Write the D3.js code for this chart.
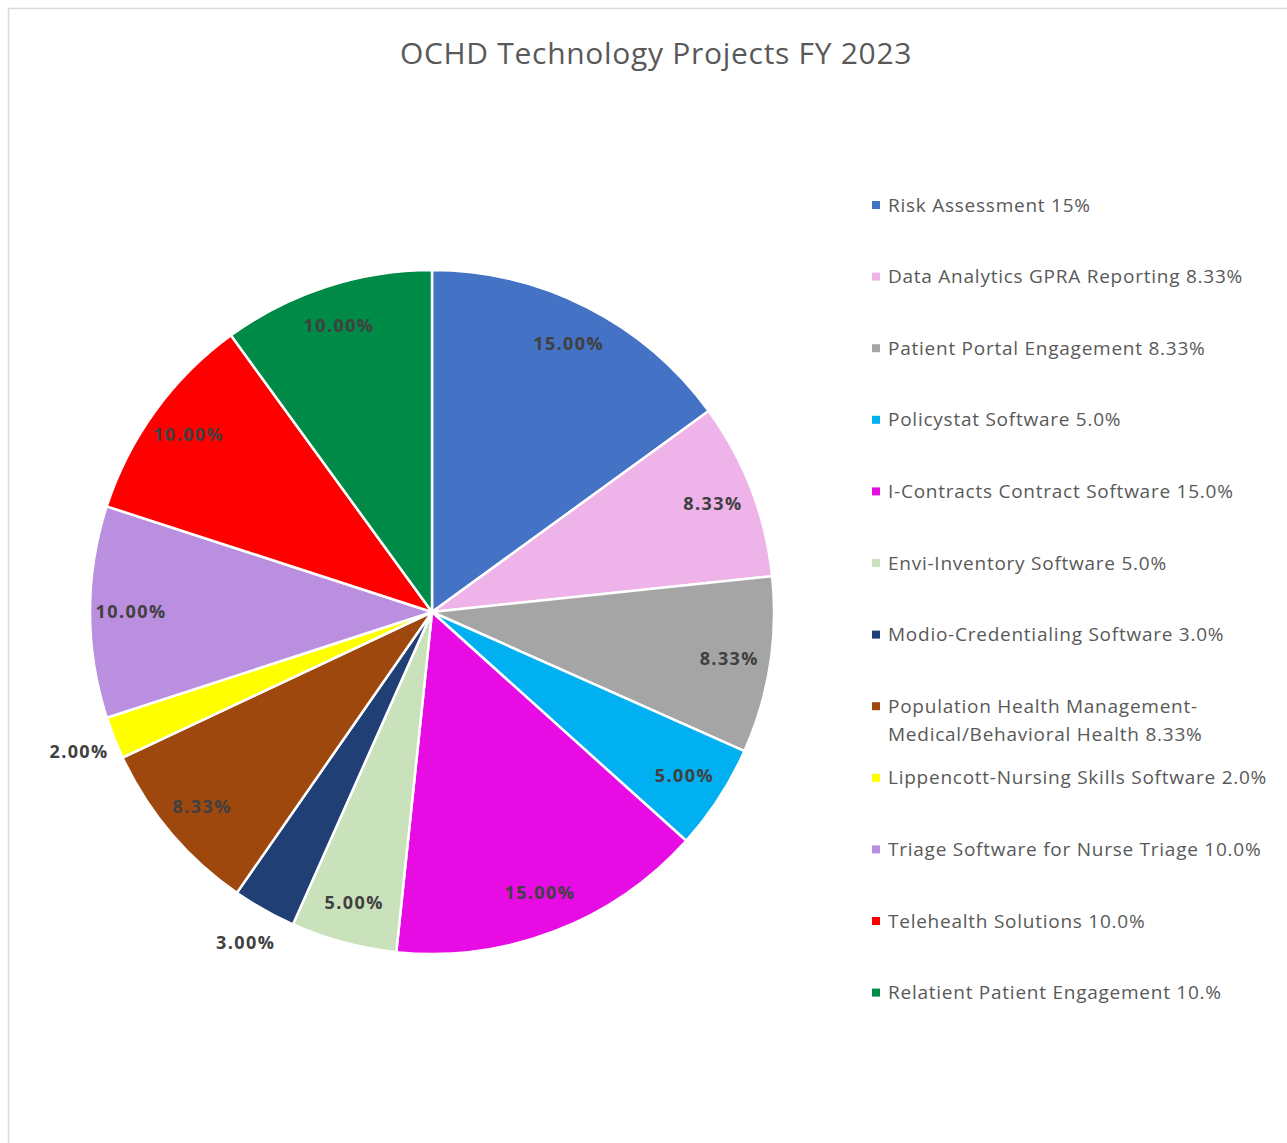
<!DOCTYPE html>
<html>
<head>
<meta charset="utf-8">
<script src="https://cdn.jsdelivr.net/npm/d3@7"></script>
<style>
  body { margin: 0; background: #fff; }
  svg { display: block; }
</style>
</head>
<body>
<div id="chart"></div>
<script>
// chart data
const categories = [
  "Risk Assessment 15%",
  "Data Analytics GPRA Reporting 8.33%",
  "Patient Portal Engagement 8.33%",
  "Policystat Software 5.0%",
  "I-Contracts Contract Software 15.0%",
  "Envi-Inventory Software 5.0%",
  "Modio-Credentialing Software 3.0%",
  "Population Health Management-|Medical/Behavioral Health 8.33%",
  "Lippencott-Nursing Skills Software 2.0%",
  "Triage Software for Nurse Triage 10.0%",
  "Telehealth Solutions 10.0%",
  "Relatient Patient Engagement 10.%"
];
const values = [15, 8.33, 8.33, 5, 15, 5, 3, 8.33, 2, 10, 10, 10];
const colors = ["#4472C4", "#EEB4EA", "#A5A5A5", "#00B0F0", "#E80CE4", "#C9E2BC",
  "#203F75", "#9E480E", "#FFFF00", "#BB8FDF", "#FF0000", "#008A48"];
// small slices get their label outside the pie
const outsideLabel = [false, false, false, false, false, false, true, false, true, false, false, false];

const width = 1287, height = 1143;
const cx = 432, cy = 612, radius = 342;

const svg = d3.select("#chart")
  .append("svg")
  .attr("width", width)
  .attr("height", height);

// chart area frame (only top and left visible)
svg.append("path")
  .attr("d", `M8.5,${height} V8.5 H${width}`)
  .attr("fill", "none")
  .attr("stroke", "#d9d9d9")
  .attr("stroke-width", 1.5);

svg.append("text")
  .attr("x", 656)
  .attr("y", 64)
  .attr("text-anchor", "middle")
  .style("font-family", "'Open Sans', sans-serif")
  .style("font-size", "30px")
  .style("letter-spacing", "0.7px")
  .attr("fill", "#595959")
  .text("OCHD Technology Projects FY 2023");

const pie = d3.pie().sort(null).value(d => d);
const arcs = pie(values);
const arc = d3.arc().innerRadius(0).outerRadius(radius);

const g = svg.append("g").attr("transform", `translate(${cx},${cy})`);

g.selectAll("path.slice")
  .data(arcs)
  .enter().append("path")
  .attr("class", "slice")
  .attr("d", arc)
  .attr("fill", (d, i) => colors[i])
  .attr("stroke", "#fff")
  .attr("stroke-width", 2.5)
  .attr("stroke-linejoin", "round");

// data labels
g.selectAll("text.lbl")
  .data(arcs)
  .enter().append("text")
  .attr("class", "lbl")
  .attr("transform", function(d, i) {
    let r = outsideLabel[i] ? radius * 1.11 : radius * 0.88;
    let a = (d.startAngle + d.endAngle) / 2;
    return "translate(" + (Math.sin(a) * r) + "," + (-Math.cos(a) * r) + ")";
  })
  .attr("text-anchor", "middle")
  .attr("dy", "0.35em")
  .style("font-family", "'Open Sans', sans-serif")
  .style("font-size", "18px")
  .style("font-weight", "bold")
  .style("letter-spacing", "1.4px")
  .attr("fill", "#404040")
  .text(d => d.value.toFixed(2) + "%");

// legend
const legend = svg.append("g").attr("transform", "translate(872,205)");
const rowStep = 71.6;
const item = legend.selectAll("g")
  .data(categories)
  .enter().append("g")
  .attr("transform", (d, i) => `translate(0,${i * rowStep})`);

item.append("rect")
  .attr("x", 0)
  .attr("y", -4)
  .attr("width", 8)
  .attr("height", 8)
  .attr("fill", (d, i) => colors[i]);

item.append("text")
  .attr("x", 16)
  .style("font-family", "'Open Sans', sans-serif")
  .style("font-size", "19px")
  .style("letter-spacing", "0.75px")
  .attr("fill", "#595959")
  .each(function(d) {
    let lines = d.split("|");
    let t = d3.select(this);
    lines.forEach(function(line, j) {
      t.append("tspan")
        .attr("x", 16)
        .attr("dy", j == 0 ? "0.35em" : "1.5em")
        .text(line);
    });
  });
</script>
</body>
</html>
